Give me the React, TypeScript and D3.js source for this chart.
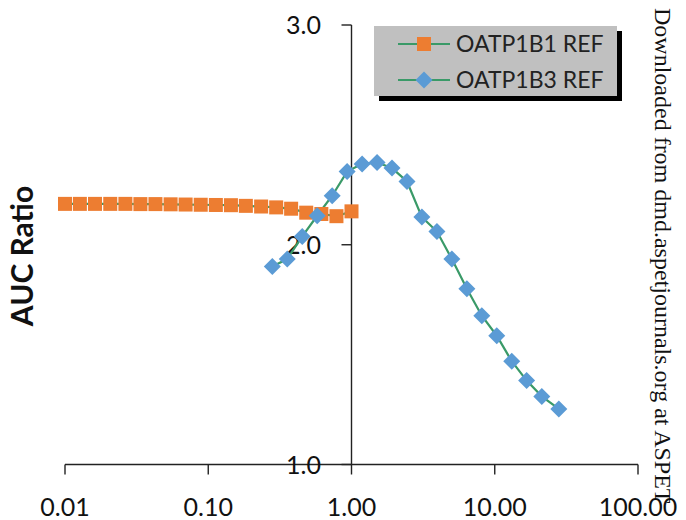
import React from "react";
import * as d3 from "d3";

const W = 686;
const H = 520;

const b1X = [0.01, 0.0127, 0.0162, 0.0207, 0.0264, 0.0336, 0.0428, 0.0546, 0.0695, 0.0886, 0.113, 0.144, 0.183, 0.234, 0.298, 0.379, 0.483, 0.616, 0.785, 1.0];
const b1Y = [2.186, 2.186, 2.186, 2.186, 2.186, 2.185, 2.185, 2.184, 2.183, 2.182, 2.181, 2.18, 2.177, 2.174, 2.17, 2.164, 2.146, 2.14, 2.13, 2.152];

const b3X = [0.28, 0.356, 0.453, 0.576, 0.733, 0.932, 1.186, 1.508, 1.918, 2.44, 3.1, 3.95, 5.02, 6.39, 8.12, 10.33, 13.14, 16.7, 21.3, 28.0];
const b3Y = [1.901, 1.935, 2.038, 2.132, 2.223, 2.333, 2.368, 2.374, 2.349, 2.288, 2.126, 2.06, 1.935, 1.8, 1.677, 1.586, 1.47, 1.382, 1.31, 1.253];

const xTicks = [0.01, 0.1, 1, 10, 100];
const xTickLabels = ["0.01", "0.10", "1.00", "10.00", "100.00"];
const yTicks = [1, 2, 3];
const yTickLabels = ["1.0", "2.0", "3.0"];
const seriesNames = ["OATP1B1 REF", "OATP1B3 REF"];

const LINE = "#3a9a68";
const ORANGE = "#ED7D31";
const BLUE = "#5B9BD5";
const FONT = "Lato, 'Open Sans', sans-serif";

export default function App() {
  const x = d3.scaleLog().domain([0.01, 100]).range([65, 638]);
  const y = d3.scaleLinear().domain([1, 3]).range([464.5, 25]);
  const line = d3
    .line<[number, number]>()
    .x((d) => x(d[0]))
    .y((d) => y(d[1]));
  const s1 = b1X.map((v, i) => [v, b1Y[i]] as [number, number]);
  const s3 = b3X.map((v, i) => [v, b3Y[i]] as [number, number]);
  const ax = x(1);
  const ay = y(1);

  const square = (cx: number, cy: number, k: string) => (
    <rect key={k} x={cx - 7} y={cy - 7} width={14} height={14} fill={ORANGE} />
  );
  const diamond = (cx: number, cy: number, k: string) => (
    <path key={k} d={`M${cx},${cy - 8.5}L${cx + 8.5},${cy}L${cx},${cy + 8.5}L${cx - 8.5},${cy}Z`} fill={BLUE} />
  );

  return (
    <svg width={W} height={H} style={{ position: "absolute", left: 0, top: 0, background: "#fff" }}>
      {/* axes */}
      <line x1={x(0.01)} x2={x(100)} y1={ay} y2={ay} stroke="#222" strokeWidth={1.4} />
      <line x1={ax} x2={ax} y1={y(3)} y2={ay} stroke="#222" strokeWidth={1.4} />
      {xTicks.map((t, i) => (
        <g key={"xt" + i}>
          <line x1={x(t)} x2={x(t)} y1={ay} y2={ay + 10} stroke="#222" strokeWidth={1.4} />
          <text x={x(t)} y={516} textAnchor="middle" fontFamily={FONT} fontSize={25} fill="#111">
            {xTickLabels[i]}
          </text>
        </g>
      ))}
      {yTicks.map((t, i) => (
        <g key={"yt" + i}>
          <line x1={ax - 10} x2={ax} y1={y(t)} y2={y(t)} stroke="#222" strokeWidth={1.4} />
          <text x={321} y={y(t)} dy="0.36em" textAnchor="end" fontFamily={FONT} fontSize={25} fill="#111">
            {yTickLabels[i]}
          </text>
        </g>
      ))}
      <text
        transform={`translate(33,256) rotate(-90)`}
        textAnchor="middle"
        fontFamily={FONT}
        fontWeight="bold"
        fontSize={30}
        fill="#111"
      >
        AUC Ratio
      </text>

      {/* series */}
      <path d={line(s1) || ""} fill="none" stroke={LINE} strokeWidth={2.2} />
      <path d={line(s3) || ""} fill="none" stroke={LINE} strokeWidth={2.2} />
      {s1.map((d, i) => square(x(d[0]), y(d[1]), "s" + i))}
      {s3.map((d, i) => diamond(x(d[0]), y(d[1]), "d" + i))}

      {/* legend */}
      <rect x={379} y={31} width={243} height={70} fill="#000" />
      <rect x={374} y={26} width={243} height={70} fill="#c0c0c0" />
      {seriesNames.map((n, i) => {
        const ly = 44 + i * 36;
        return (
          <g key={"lg" + i}>
            <line x1={398} x2={450} y1={ly} y2={ly} stroke={LINE} strokeWidth={2.2} />
            {i === 0 ? square(424, ly, "ls") : diamond(424, ly, "ld")}
            <text x={456} y={ly} dy="0.36em" fontFamily={FONT} fontSize={23} fill="#222">
              {n}
            </text>
          </g>
        );
      })}

      {/* watermark */}
      <text
        transform={`translate(655,8) rotate(90)`}
        fontFamily="'Liberation Serif', 'Times New Roman', serif"
        fontSize={24}
        fill="#111"
      >
        Downloaded from dmd.aspetjournals.org at ASPET
      </text>
    </svg>
  );
}
